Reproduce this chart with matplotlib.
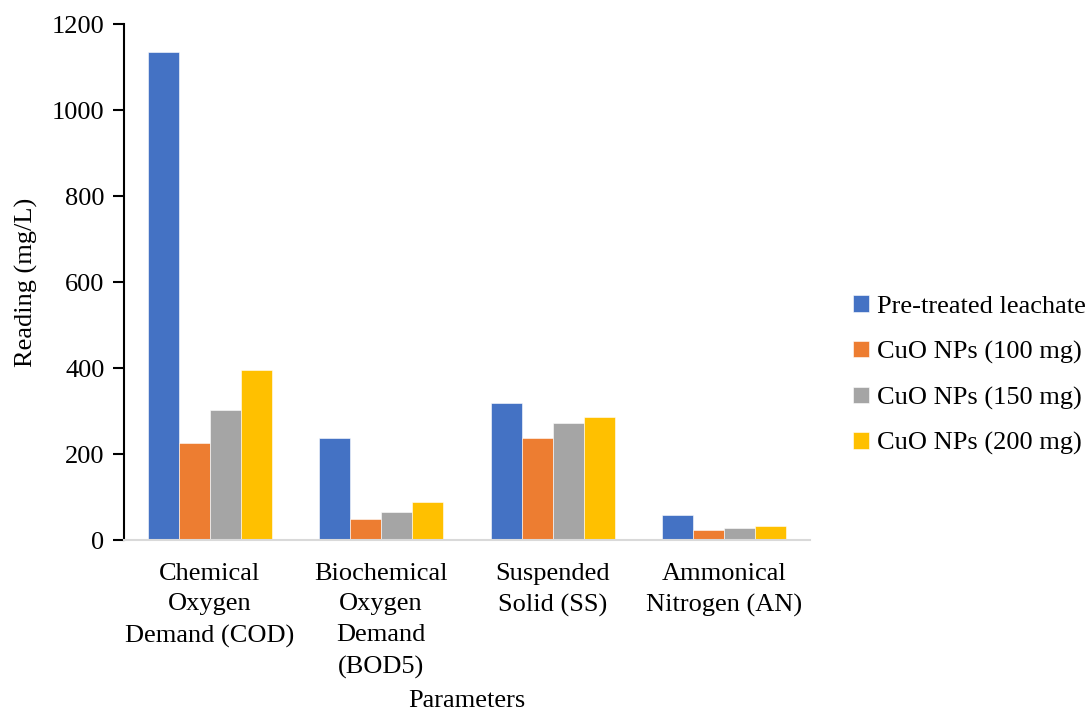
import matplotlib
matplotlib.use("Agg")
import matplotlib.pyplot as plt
import numpy as np

categories = ["Chemical\nOxygen\nDemand (COD)", "Biochemical\nOxygen\nDemand\n(BOD5)",
              "Suspended\nSolid (SS)", "Ammonical\nNitrogen (AN)"]
series_names = ["Pre-treated leachate", "CuO NPs (100 mg)", "CuO NPs (150 mg)", "CuO NPs (200 mg)"]
pretreated = [1136, 237, 320, 59]
cuo_100 = [226, 50, 237, 23]
cuo_150 = [304, 65, 273, 28]
cuo_200 = [395, 88, 286, 33]
colors = ["#4472C4", "#ED7D31", "#A5A5A5", "#FFC000"]
yticks = [0, 200, 400, 600, 800, 1000, 1200]

plt.rcParams["font.family"] = ["Liberation Serif", "DejaVu Serif"]

fig = plt.figure(figsize=(10.87, 7.15), dpi=100)
ax = fig.add_axes([0.114, 0.2443, 0.631, 0.7221])

x = np.arange(len(categories))
width = 0.181
values = [pretreated, cuo_100, cuo_150, cuo_200]
for i, (vals, name, c) in enumerate(zip(values, series_names, colors)):
    ax.bar(x + (i - 1.5) * width, vals, width, color=c, label=name,
           edgecolor="white", linewidth=0.4)

ax.set_xlim(-0.5, len(categories) - 0.5)
ax.set_ylim(0, 1200)
ax.set_yticks(yticks)
ax.set_xticks(x)
ax.set_xticklabels(categories, fontsize=19, linespacing=1.52)
ax.tick_params(axis="y", labelsize=19, length=8, width=1.5, direction="out", pad=6)
ax.tick_params(axis="x", length=0, pad=16)

for s in ["top", "right"]:
    ax.spines[s].set_visible(False)
ax.spines["left"].set_linewidth(1.5)
ax.spines["bottom"].set_color("#D9D9D9")
ax.spines["bottom"].set_linewidth(1.5)

ax.set_ylabel("Reading (mg/L)", fontsize=19, labelpad=10)
ax.set_xlabel("Parameters", fontsize=19, labelpad=8)

leg = fig.legend(*ax.get_legend_handles_labels(), loc="center left",
                 bbox_to_anchor=(0.775, 0.475), frameon=False,
                 fontsize=19, handlelength=0.6, handleheight=0.6, handletextpad=0.3,
                 labelspacing=0.86, borderaxespad=0)

fig.savefig("out.png", dpi=100)
